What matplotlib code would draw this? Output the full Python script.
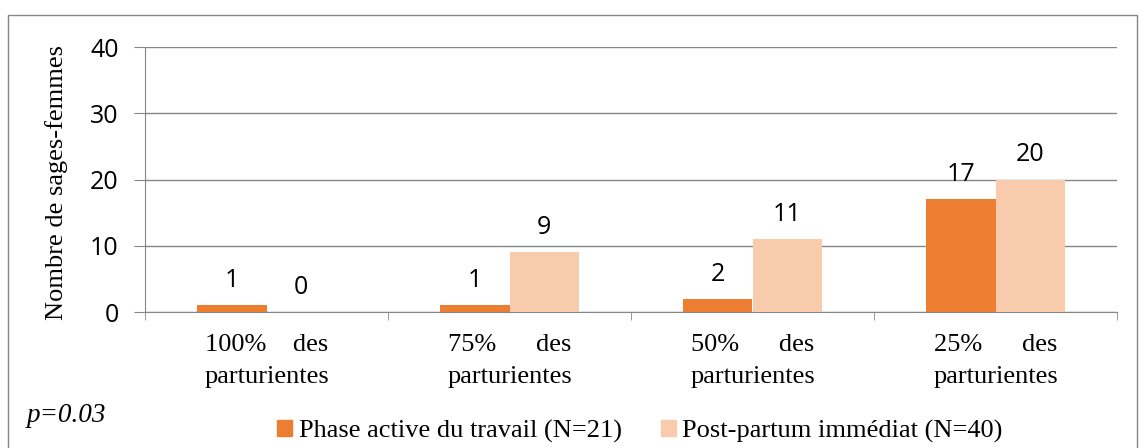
import matplotlib
matplotlib.use("Agg")
import matplotlib.pyplot as plt
from matplotlib.patches import Rectangle, Patch
import numpy as np

# data
categories = ["100%    des\nparturientes", "75%      des\nparturientes",
              "50%      des\nparturientes", "25%      des\nparturientes"]
phase_active = [1, 1, 2, 17]
post_partum = [0, 9, 11, 20]
series_names = ["Phase active du travail (N=21)", "Post-partum immédiat (N=40)"]
y_ticks = [0, 10, 20, 30, 40]

orange = "#ED7D31"
peach = "#F8CBAD"
grid_col = "#868686"
serif = "Liberation Serif"
sans = "Open Sans"

fig = plt.figure(figsize=(11.4, 4.48), dpi=100)
ax = fig.add_axes([145 / 1140, 1 - 312 / 448, 972 / 1140, 265 / 448])

x = np.arange(len(categories))
w = 0.285
b1 = ax.bar(x - w / 2, phase_active, w, color=orange, zorder=3)
b2 = ax.bar(x + w / 2, post_partum, w, color=peach, zorder=3)

# value labels above the bars
for bars, vals in ((b1, phase_active), (b2, post_partum)):
    for bar, v in zip(bars, vals):
        ax.annotate(str(v), (bar.get_x() + bar.get_width() / 2, v),
                    xytext=(0, 13), textcoords="offset points",
                    ha="center", va="baseline", fontsize=18, family=sans)

ax.set_xlim(-0.5, len(categories) - 0.5)
ax.set_ylim(0, 40)
ax.set_yticks(y_ticks)
ax.set_yticklabels([str(t) for t in y_ticks], fontsize=18, family=sans)
ax.tick_params(axis="y", length=8, color=grid_col, pad=11)
ax.yaxis.grid(True, color=grid_col, linewidth=1)
ax.set_axisbelow(True)

ax.set_xticks(x)
ax.set_xticklabels(categories, fontsize=19, family=serif, linespacing=1.55)
ax.tick_params(axis="x", which="major", length=0, pad=16)
ax.set_xticks(np.arange(-0.5, len(categories)), minor=True)
ax.tick_params(axis="x", which="minor", length=6, color=grid_col)

for s in ("top", "right"):
    ax.spines[s].set_visible(False)
for s in ("left", "bottom"):
    ax.spines[s].set_color(grid_col)

fig.text(57 / 1140, 1 - 183 / 448, "Nombre de sages-femmes", rotation=90,
         ha="center", va="center", fontsize=19, family=serif)

fig.text(27 / 1140, 1 - 415 / 448, "p=0.03", ha="left", va="center",
         fontsize=19.5, family=serif, style="italic")

handles = [Patch(color=orange), Patch(color=peach)]
fig.legend(handles, series_names, loc="center", ncol=2,
           bbox_to_anchor=(640 / 1140, 1 - 431 / 448), frameon=False,
           prop={"family": serif, "size": 19}, handlelength=0.55,
           handleheight=0.55, handletextpad=0.25, columnspacing=1.5)

# outer chart border (bottom edge lies outside the image)
fig.patches.append(Rectangle((8 / 1140, -10 / 448), 1129 / 1140, 443 / 448,
                             transform=fig.transFigure, fill=False,
                             edgecolor=grid_col, linewidth=1))

fig.savefig("out.png", dpi=100)
